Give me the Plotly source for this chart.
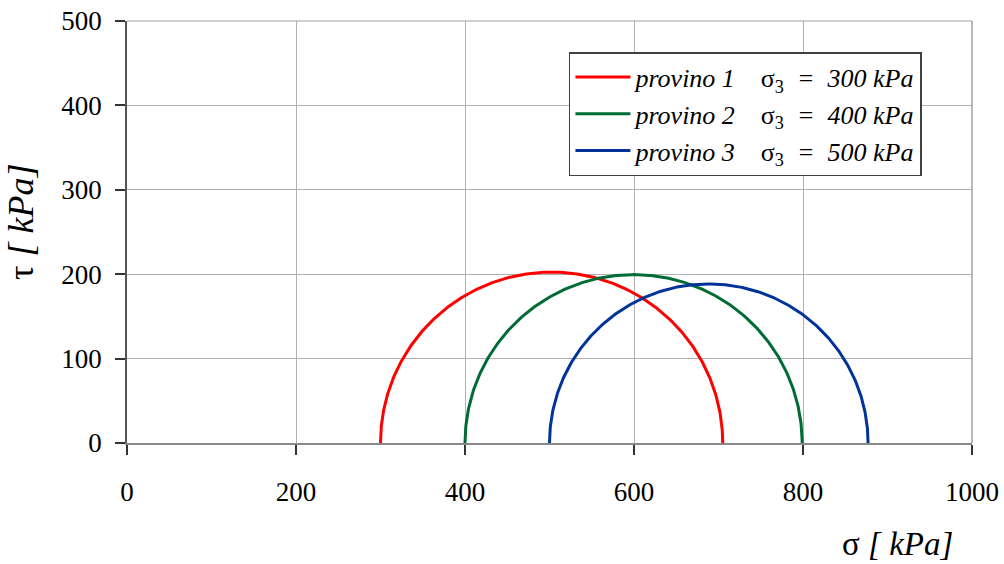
import numpy as np
import plotly.graph_objects as go

# Triaxial test results: confining pressure and major principal stress at failure (kPa)
provini = ["provino 1", "provino 2", "provino 3"]
sigma3 = [300, 400, 500]
sigma1 = [705, 799, 877]
colors = ["#FF0000", "#006B35", "#003399"]

x_ticks = [0, 200, 400, 600, 800, 1000]
y_ticks = [0, 100, 200, 300, 400, 500]

FONT = "Liberation Serif"
SP = "&nbsp;"

fig = go.Figure()
theta = np.linspace(0, np.pi, 361)
for name, s3, s1, col in zip(provini, sigma3, sigma1, colors):
    c = (s1 + s3) / 2.0
    r = (s1 - s3) / 2.0
    fig.add_trace(go.Scatter(
        x=c - r * np.cos(theta),
        y=r * np.sin(theta),
        mode="lines",
        line=dict(color=col, width=3),
        name=f"<i>{name}</i>{SP * 4}σ<sub>3</sub><i>{SP * 2}={SP * 2}{s3} kPa</i>",
    ))

fig.update_layout(
    width=1004, height=564,
    margin=dict(l=127, r=32, t=21, b=121, autoexpand=False),
    paper_bgcolor="white", plot_bgcolor="white",
    font=dict(family=FONT, size=27, color="black"),
    showlegend=True,
    legend=dict(
        x=0.523, y=0.9265, xanchor="left", yanchor="top",
        bgcolor="white", bordercolor="#404040", borderwidth=1.5,
        font=dict(family=FONT, size=26, color="black"),
        tracegroupgap=0, itemwidth=55,
    ),
    xaxis=dict(
        range=[0, 1000], tickvals=x_ticks, ticktext=[str(v) for v in x_ticks],
        showgrid=True, gridcolor="#B0B0B0", gridwidth=1,
        showline=True, linecolor="#888888", linewidth=1.5,
        ticks="outside", ticklen=10, tickcolor="#333333", tickwidth=1.5,
        ticklabelstandoff=14, zeroline=False, fixedrange=True, automargin=False,
    ),
    yaxis=dict(
        range=[0, 500], tickvals=y_ticks, ticktext=[str(v) for v in y_ticks],
        showgrid=True, gridcolor="#B0B0B0", gridwidth=1,
        showline=True, linecolor="#555555", linewidth=1.5,
        ticks="outside", ticklen=10, tickcolor="#333333", tickwidth=1.5,
        ticklabelstandoff=8, zeroline=False, fixedrange=True, automargin=False,
    ),
    annotations=[
        dict(text="σ <i>[ kPa]</i>", xref="paper", yref="paper",
             x=(897 - 127) / 845, y=(443 - 544) / 422,
             xanchor="center", yanchor="middle", showarrow=False,
             font=dict(family=FONT, size=33, color="black")),
        dict(text="τ <i>[ kPa]</i>", xref="paper", yref="paper",
             x=(21 - 127) / 845, y=(443 - 222) / 422, textangle=-90,
             xanchor="center", yanchor="middle", showarrow=False,
             font=dict(family=FONT, size=36, color="black")),
    ],
)

# thin gray frame on the right and top of the plotting area
fig.add_shape(type="line", xref="paper", yref="paper", x0=1, x1=1, y0=0, y1=1,
              line=dict(color="#A0A0A0", width=1.5))
fig.add_shape(type="line", xref="paper", yref="paper", x0=0, x1=1, y0=1, y1=1,
              line=dict(color="#A0A0A0", width=1))

fig.write_html("out.html")
